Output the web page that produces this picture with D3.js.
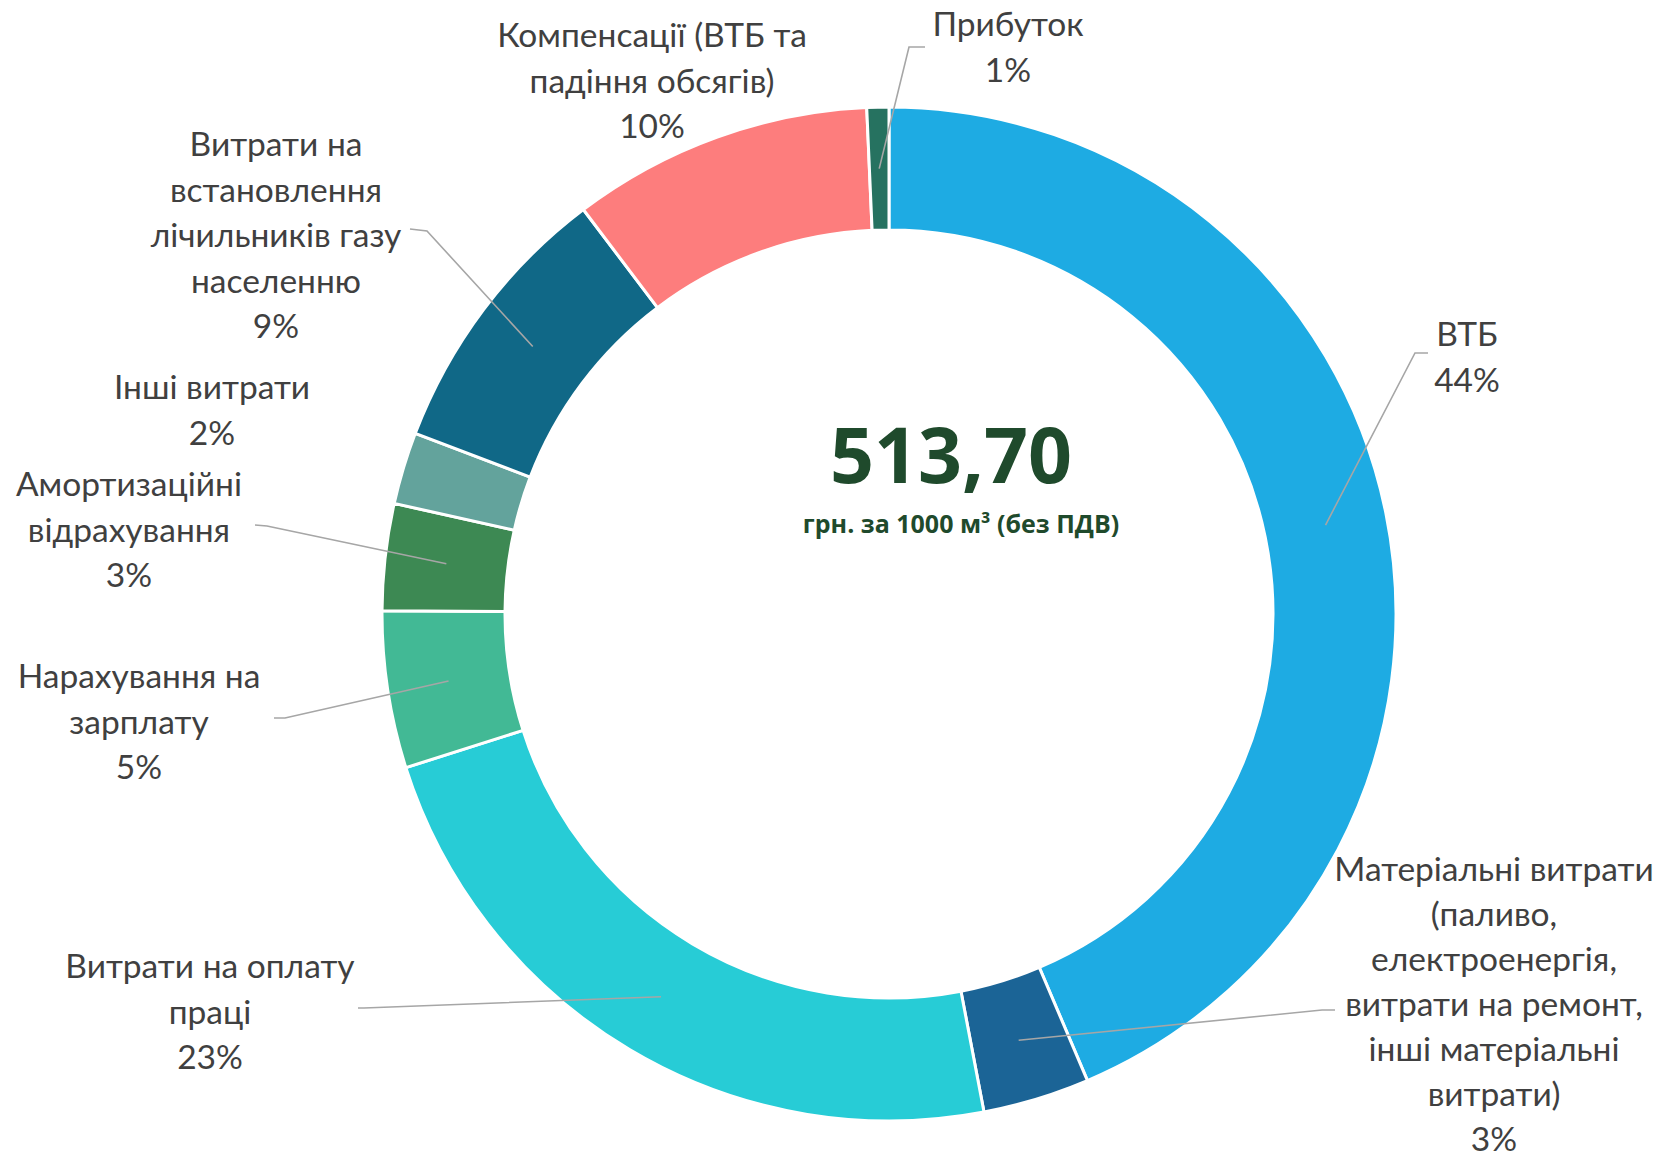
<html>
<head>
  <meta charset="utf-8">
  <title>Структура тарифу</title>
  <style>
    html, body { margin: 0; padding: 0; background: #fff; }
    svg { display: block; }
    .lbl { font-family: Lato, "Open Sans", sans-serif; font-size: 33.5px; fill: #404040; }
    .total { font-family: "Open Sans", sans-serif; font-weight: 700; fill: #1f4a2c; }
  </style>
  <script src="https://d3js.org/d3.v7.min.js"></script>
</head>
<body>
<script>
  // дані (частка у тарифі, %)
  var categories = [
    "ВТБ",
    "Матеріальні витрати\n(паливо,\nелектроенергія,\nвитрати на ремонт,\nінші матеріальні\nвитрати)",
    "Витрати на оплату\nпраці",
    "Нарахування на\nзарплату",
    "Амортизаційні\nвідрахування",
    "Інші витрати",
    "Витрати на\nвстановлення\nлічильників газу\nнаселенню",
    "Компенсації (ВТБ та\nпадіння обсягів)",
    "Прибуток"
  ];
  var shares = [43.6, 3.4, 23.1, 5.0, 3.4, 2.3, 8.9, 9.6, 0.7];
  var colors = ["#1eabe3", "#1b6496", "#27ccd6", "#42b995", "#3d8953", "#63a39c", "#106887", "#fd7d7d", "#267260"];
  var totalValue = "513,70";
  var totalUnit = "грн. за 1000 м³ (без ПДВ)";

  // розміщення підписів: центр тексту, y першого рядка, точка виноски
  var labelPos = [
    { x: 1467, y: 333, elbow: [1415, 353], tail: [1428, 353] },
    { x: 1494, y: 868, lh: 45, elbow: [1322, 1010], tail: [1335, 1010] },
    { x: 210, y: 965, elbow: [364, 1008], tail: [358, 1008] },
    { x: 139, y: 675, elbow: [285, 718], tail: [274, 718] },
    { x: 129, y: 483, elbow: [267, 526], tail: [255, 525] },
    { x: 212, y: 386, elbow: null },
    { x: 276, y: 143, elbow: [427, 231], tail: [410, 229] },
    { x: 652, y: 34, elbow: null },
    { x: 1008, y: 23, elbow: [909, 47], tail: [925, 47] }
  ];

  var width = 1663, height = 1164;
  var cx = 889, cy = 614, outerR = 507, innerR = 384;
  var lineH = 45.5;

  var svg = d3.select("body").append("svg")
    .attr("width", width)
    .attr("height", height);

  var data = categories.map(function (c, i) { return { name: c, value: shares[i], color: colors[i], pos: labelPos[i] }; });
  var total = d3.sum(shares);

  var pie = d3.pie().sort(null).value(function (d) { return d.value; });
  var arc = d3.arc().innerRadius(innerR).outerRadius(outerR);
  var arcs = pie(data);

  var g = svg.append("g").attr("transform", "translate(" + cx + "," + cy + ")");

  g.selectAll("path.slice")
    .data(arcs)
    .enter()
    .append("path")
    .attr("class", "slice")
    .attr("d", arc)
    .attr("fill", function (d) { return d.data.color; })
    .attr("stroke", "#fff")
    .attr("stroke-width", 3);

  // виноски
  svg.selectAll("polyline.leader")
    .data(arcs.filter(function (d) { return d.data.pos.elbow; }))
    .enter()
    .append("polyline")
    .attr("class", "leader")
    .attr("fill", "none")
    .attr("stroke", "#a6a6a6")
    .attr("stroke-width", 1.6)
    .attr("points", function (d) {
      var c = arc.centroid(d);
      var p = d.data.pos;
      return [[c[0] + cx, c[1] + cy], p.elbow, p.tail].map(function (q) { return q.join(","); }).join(" ");
    });

  // підписи
  var labels = svg.selectAll("text.lbl")
    .data(arcs)
    .enter()
    .append("text")
    .attr("class", "lbl")
    .attr("text-anchor", "middle")
    .attr("dominant-baseline", "central");

  labels.each(function (d) {
    var lines = d.data.name.split("\n");
    lines.push(Math.round(d.data.value / total * 100) + "%");
    var t = d3.select(this);
    var lh = d.data.pos.lh || lineH;
    lines.forEach(function (s, i) {
      t.append("tspan")
        .attr("x", d.data.pos.x)
        .attr("y", d.data.pos.y + i * lh)
        .text(s);
    });
  });

  // центр
  svg.append("text")
    .attr("class", "total")
    .attr("x", 951)
    .attr("y", 483)
    .attr("text-anchor", "middle")
    .style("font-size", "77px")
    .text(totalValue);

  svg.append("text")
    .attr("class", "total")
    .attr("x", 961)
    .attr("y", 533)
    .attr("text-anchor", "middle")
    .style("font-size", "25px")
    .text(totalUnit);
</script>
</body>
</html>
